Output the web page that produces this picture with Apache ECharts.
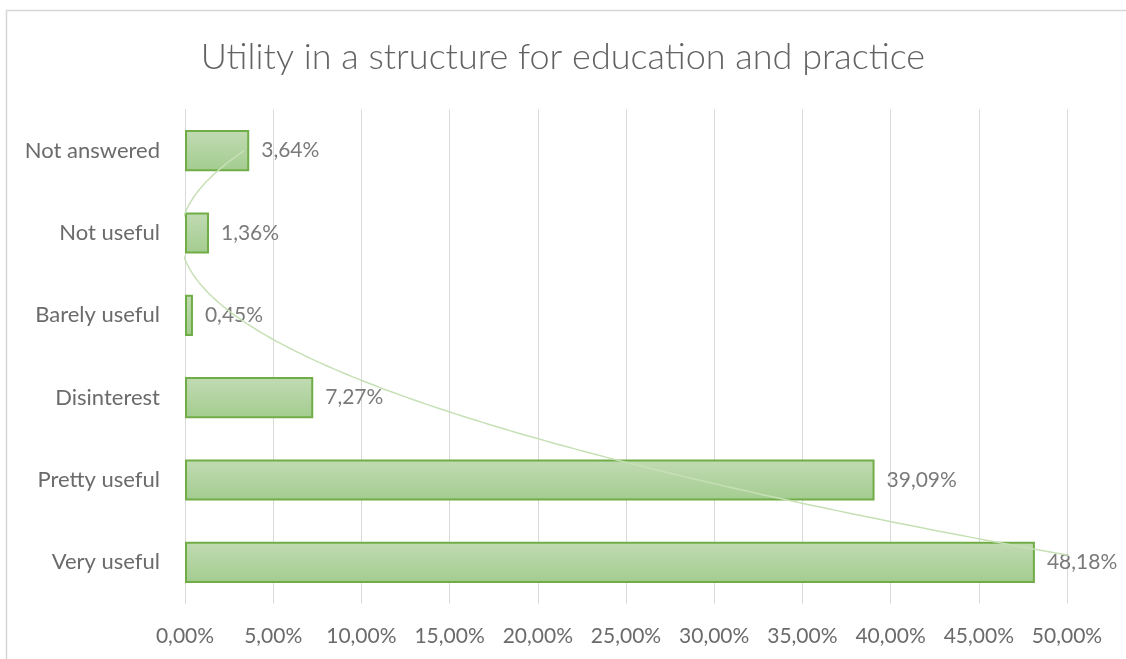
<!DOCTYPE html>
<html>
<head>
<meta charset="utf-8">
<title>Utility in a structure for education and practice</title>
<script src="https://cdn.jsdelivr.net/npm/echarts@6/dist/echarts.min.js"></script>
<style>
  html, body { margin: 0; padding: 0; background: #ffffff; }
  #chart { width: 1126px; height: 659px; }
</style>
</head>
<body>
<div id="chart"></div>
<script>
// Answers, listed from the bottom of the chart to the top
const categories = ['Very useful', 'Pretty useful', 'Disinterest', 'Barely useful', 'Not useful', 'Not answered'];
// Share of respondents per answer, in percent
const shares = [48.18, 39.09, 7.27, 0.45, 1.36, 3.64];
// Percentage axis ticks
const axisMin = 0;
const axisMax = 50;
const axisStep = 5;

// Second-order polynomial trendline (least squares) through the shares,
// with categories numbered 1..n as a spreadsheet does it.
function quadraticFit(ys) {
  const n = ys.length;
  let s = [0, 0, 0, 0, 0], t = [0, 0, 0];
  for (let i = 0; i < n; i++) {
    const x = i + 1;
    for (let p = 0; p <= 4; p++) s[p] += Math.pow(x, p);
    for (let p = 0; p <= 2; p++) t[p] += ys[i] * Math.pow(x, p);
  }
  // Solve the 3x3 normal equations
  const A = [
    [s[0], s[1], s[2], t[0]],
    [s[1], s[2], s[3], t[1]],
    [s[2], s[3], s[4], t[2]]
  ];
  for (let c = 0; c < 3; c++) {
    for (let r = c + 1; r < 3; r++) {
      const f = A[r][c] / A[c][c];
      for (let k = c; k < 4; k++) A[r][k] -= f * A[c][k];
    }
  }
  const coef = [0, 0, 0];
  for (let r = 2; r >= 0; r--) {
    let v = A[r][3];
    for (let k = r + 1; k < 3; k++) v -= A[r][k] * coef[k];
    coef[r] = v / A[r][r];
  }
  return x => coef[0] + coef[1] * x + coef[2] * x * x;
}

const trend = quadraticFit(shares);
const trendPoints = [];
for (let k = 0; k <= (categories.length - 1) * 40; k++) {
  const pos = k / 40;               // position in category units (0 = first band centre)
  trendPoints.push([trend(pos + 1), pos]);
}

const fmt = v => v.toFixed(2).replace('.', ',') + '%';
const font = 'Lato, "Open Sans", sans-serif';

const chart = echarts.init(document.getElementById('chart'), null, { renderer: 'canvas' });
chart.setOption({
  backgroundColor: '#ffffff',
  animation: false,
  title: {
    text: 'Utility in a structure for education and practice',
    left: 'center',
    top: 34,
    textStyle: { fontFamily: font, fontWeight: 300, fontSize: 36, color: '#626262' }
  },
  graphic: [{
    type: 'rect',
    shape: { x: 6.5, y: 10.5, width: 1200, height: 700 },
    style: { fill: 'none', stroke: '#d6d6d6', lineWidth: 1.5 },
    silent: true,
    z: -1
  }],
  grid: { left: 185, right: 59, top: 109.5, bottom: 55.5, containLabel: false },
  xAxis: {
    type: 'value',
    min: axisMin,
    max: axisMax,
    interval: axisStep,
    axisLine: { show: false },
    axisTick: { show: false },
    splitLine: { show: true, lineStyle: { color: '#d9d9d9', width: 1 } },
    axisLabel: {
      formatter: v => fmt(v),
      fontFamily: font,
      fontSize: 21,
      color: '#6b6b6b',
      margin: 22
    }
  },
  yAxis: [{
    type: 'category',
    data: categories,
    axisLine: { show: true, lineStyle: { color: '#d9d9d9', width: 1 } },
    axisTick: { show: false },
    splitLine: { show: false },
    axisLabel: { fontFamily: font, fontSize: 22, color: '#6b6b6b', margin: 25 }
  }, {
    type: 'value',
    min: -0.5,
    max: categories.length - 0.5,
    show: false
  }],
  series: [{
    type: 'bar',
    data: shares,
    barCategoryGap: '50%',
    itemStyle: {
      color: new echarts.graphic.LinearGradient(0, 0, 0, 1, [
        { offset: 0, color: '#c1dbb3' },
        { offset: 1, color: '#a3cc8f' }
      ]),
      borderColor: '#70ad47',
      borderWidth: 2
    },
    label: {
      show: true,
      position: 'right',
      distance: 12,
      formatter: p => fmt(p.value),
      fontFamily: font,
      fontSize: 21,
      color: '#7a7a7a'
    },
    z: 2
  }, {
    type: 'line',
    yAxisIndex: 1,
    data: trendPoints,
    showSymbol: false,
    symbol: 'none',
    clip: true,
    lineStyle: { color: '#c6e0b5', width: 1.5 },
    silent: true,
    z: 3
  }]
});
</script>
</body>
</html>
